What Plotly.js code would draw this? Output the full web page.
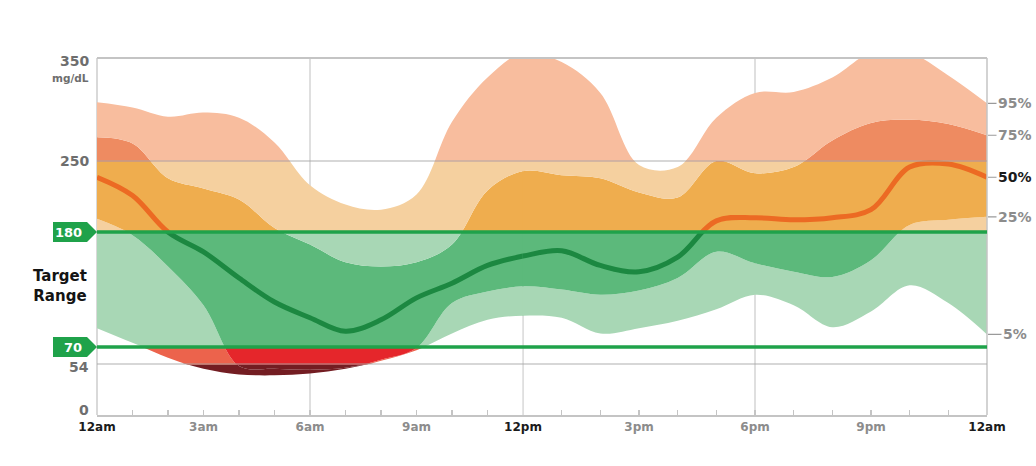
<!DOCTYPE html>
<html><head><meta charset="utf-8">
<script src="https://cdn.plot.ly/plotly-3.0.1.min.js"></script>
<style>html,body{margin:0;padding:0;background:#fff}#chart{width:1036px;height:466px}</style>
</head><body><div id="chart"></div>
<script>
// ---------- data (mg/dL by hour of day) ----------
const hours = [0,1,2,3,4,5,6,7,8,9,10,11,12,13,14,15,16,17,18,19,20,21,22,23,24];
const p5  = [88, 74, 60, 49, 43, 42, 44, 49, 57, 67, 83, 96, 100, 98, 83, 88, 95, 106, 120, 110, 89, 104, 129, 112, 82];
const p25 = [193, 177, 147, 110, 52, 49, 48, 50, 58, 69, 112, 123, 128, 125, 120, 124, 136, 161, 150, 142, 137, 153, 187, 192, 195];
const p50 = [234, 216, 180, 161, 136, 113, 98, 85, 96, 117, 131, 148, 157, 162, 148, 142, 156, 191, 194, 192, 194, 202, 244, 247, 234];
const p75 = [273, 267, 233, 223, 212, 184, 168, 151, 147, 151, 168, 221, 240, 236, 233, 219, 214, 250, 238, 244, 270, 287, 290, 286, 275];
const p95 = [307, 302, 293, 297, 292, 268, 226, 207, 202, 217, 288, 331, 355, 346, 316, 246, 244, 292, 316, 317, 331, 355, 355, 333, 306];
const zoneLimits = [0, 54, 70, 180, 250, 350];
const targetLimits = [70, 180];
const xTickHours = [0, 3, 6, 9, 12, 15, 18, 21, 24];
const xTickLabels = ['12am', '3am', '6am', '9am', '12pm', '3pm', '6pm', '9pm', '12am'];
const xBoldLabels = [0, 12, 24];
const gridHours = [6, 12, 18];
const grayLines = [250, 54];
const leftLabels = [350, 250, 54, 0];
const pctNames = ['5%', '25%', '50%', '75%', '95%'];

// ---------- styling / layout ----------
const FONT = 'DejaVu Sans, Verdana, sans-serif';
const PX = {left: 97, right: 987, top: 58, bottom: 415, W: 1036, H: 466};
const ZONE_ROWS = [415, 364, 347, 232, 161, 58];     // pixel rows of zoneLimits
const HALVES = [{lo: 0, hi: 12, c0: 97, c1: 523}, {lo: 12, hi: 24, c0: 523, c1: 987}];
const OVER = 0.8;
const zoneColors = [
  {light: '#731d22', dark: '#731d22', median: '#731d22'},
  {light: '#ec634c', dark: '#e5262b', median: '#b51e22'},
  {light: '#a8d7b5', dark: '#5cb97b', median: '#1c8841'},
  {light: '#f5d09f', dark: '#efad4e', median: '#ec6a23'},
  {light: '#f8bd9e', dark: '#ee8b61', median: '#ec6a23'}
];
const GREEN = '#1fa24a';

function paperX(px) { return (px - PX.left) / (PX.right - PX.left); }
function paperRow(row) { return (PX.bottom - row) / (PX.bottom - PX.top); }
function paperY(v) {
  const n = zoneLimits.length - 1;
  for (let i = 0; i < n; i++) {
    const lo = zoneLimits[i], hi = zoneLimits[i + 1];
    if (v <= hi || i === n - 1) {
      const row = ZONE_ROWS[i] + (v - lo) / (hi - lo) * (ZONE_ROWS[i + 1] - ZONE_ROWS[i]);
      return paperRow(row);
    }
  }
}

const layout = {
  width: PX.W, height: PX.H,
  margin: {l: PX.left, r: PX.W - PX.right, t: PX.top, b: PX.H - PX.bottom, pad: 0},
  paper_bgcolor: '#ffffff', plot_bgcolor: 'rgba(0,0,0,0)',
  showlegend: false, hovermode: false,
  font: {family: FONT},
  shapes: [], annotations: []
};

// x axes (two halves of the day)
HALVES.forEach((h, j) => {
  const uph = (h.hi - h.lo) / (h.c1 - h.c0);
  const padL = j > 0 ? OVER : 0, padR = j < HALVES.length - 1 ? OVER : 0;
  const tv = [], tt = [];
  hours.forEach(hr => {
    if (hr >= h.lo && (hr < h.hi || j === HALVES.length - 1)) {
      tv.push(hr);
      const k = xTickHours.indexOf(hr);
      let lab = k >= 0 ? xTickLabels[k] : '';
      if (xBoldLabels.indexOf(hr) >= 0) lab = '<span style="color:#1b1b1b">' + lab + '</span>';
      tt.push(lab);
    }
  });
  layout['xaxis' + (j === 0 ? '' : j + 1)] = {
    domain: [paperX(h.c0 - padL), paperX(h.c1 + padR)],
    range: [h.lo - padL * uph, h.hi + padR * uph],
    anchor: 'y', fixedrange: true,
    showgrid: false, zeroline: false,
    showline: true, linecolor: '#c4c4c4', linewidth: 2,
    tickmode: 'array', tickvals: tv, ticktext: tt,
    ticks: 'inside', ticklen: 5, tickwidth: 1.5, tickcolor: '#c4c4c4',
    tickfont: {family: FONT, size: 12, weight: 'bold', color: '#8c8c8c'}
  };
});

// y axes (one per glucose zone)
const NZ = zoneLimits.length - 1;
for (let i = 0; i < NZ; i++) {
  const lo = zoneLimits[i], hi = zoneLimits[i + 1];
  const r0 = ZONE_ROWS[i], r1 = ZONE_ROWS[i + 1];
  const upp = (hi - lo) / (r0 - r1);
  const padLo = i > 0 ? OVER : 0, padHi = i < NZ - 1 ? OVER : 0;
  layout['yaxis' + (i === 0 ? '' : i + 1)] = {
    domain: [paperRow(r0 + padLo), paperRow(r1 - padHi)],
    range: [lo - padLo * upp, hi + padHi * upp],
    anchor: 'x', visible: false, fixedrange: true
  };
}

// traces: every band drawn in every zone, clipped by that zone's plot area
const traces = [];
for (let i = 0; i < NZ; i++) {
  const c = zoneColors[i];
  const ya = 'y' + (i === 0 ? '' : i + 1);
  HALVES.forEach((h, j) => {
    const xa = 'x' + (j === 0 ? '' : j + 1);
    const base = {x: hours, xaxis: xa, yaxis: ya, mode: 'lines', hoverinfo: 'skip'};
    const edge = {shape: 'spline', smoothing: 1, width: 0};
    traces.push(Object.assign({}, base, {y: p5, line: edge}));
    traces.push(Object.assign({}, base, {y: p25, line: edge, fill: 'tonexty', fillcolor: c.light}));
    traces.push(Object.assign({}, base, {y: p75, line: edge, fill: 'tonexty', fillcolor: c.dark}));
    traces.push(Object.assign({}, base, {y: p95, line: edge, fill: 'tonexty', fillcolor: c.light}));
    traces.push(Object.assign({}, base, {y: p50, line: {shape: 'spline', smoothing: 1, width: 5, color: c.median}}));
  });
}

// grid / frame
gridHours.forEach(hr => {
  layout.shapes.push({type: 'line', xref: hr < 12 ? 'x' : 'x2', yref: 'paper', x0: hr, x1: hr, y0: 0, y1: 1,
    line: {color: '#d4d4d4', width: 1.5}, layer: 'below'});
});
layout.shapes.push({type: 'line', xref: 'paper', yref: 'paper', x0: 0, x1: 0, y0: 0, y1: 1, line: {color: '#cccccc', width: 1.5}, layer: 'below'});
layout.shapes.push({type: 'line', xref: 'paper', yref: 'paper', x0: 1, x1: 1, y0: 0, y1: 1, line: {color: '#c4c4c4', width: 1.5}, layer: 'above'});
layout.shapes.push({type: 'line', xref: 'paper', yref: 'paper', x0: 0, x1: 1, y0: 1, y1: 1, line: {color: '#c4c4c4', width: 2}, layer: 'above'});
grayLines.forEach(v => {
  layout.shapes.push({type: 'line', xref: 'paper', yref: 'paper', x0: 0, x1: 1, y0: paperY(v), y1: paperY(v),
    line: {color: 'rgba(165,165,165,0.6)', width: 1.5}, layer: 'above'});
});
// target lines and tags
targetLimits.forEach(v => {
  const y = paperY(v);
  layout.shapes.push({type: 'line', xref: 'paper', yref: 'paper', x0: 0, x1: 1, y0: y, y1: y,
    line: {color: GREEN, width: 3.5}, layer: 'above'});
  const rowC = PX.bottom - y * (PX.bottom - PX.top);
  const xa = paperX(53), xb = paperX(87), xt = paperX(97);
  const ya = paperRow(rowC - 10), yb = paperRow(rowC + 10);
  layout.shapes.push({type: 'path', xref: 'paper', yref: 'paper',
    path: `M${xa},${ya} L${xb},${ya} L${xt},${y} L${xb},${yb} L${xa},${yb} Z`,
    fillcolor: GREEN, line: {width: 0}, layer: 'above'});
  layout.annotations.push({xref: 'paper', yref: 'paper', x: paperX(84), y: y, xanchor: 'right', yanchor: 'middle',
    text: String(v), showarrow: false, font: {family: FONT, size: 13, weight: 'bold', color: '#ffffff'}});
});

// left axis labels
const leftShift = {350: -3, 250: 0, 54: -3, 0: 5};
leftLabels.forEach(v => {
  layout.annotations.push({xref: 'paper', yref: 'paper', x: paperX(91), y: paperY(v), xanchor: 'right', yanchor: 'middle',
    yshift: leftShift[v], text: String(v), showarrow: false, font: {family: FONT, size: 14, weight: 'bold', color: '#6e6e6e'}});
});
layout.annotations.push({xref: 'paper', yref: 'paper', x: paperX(91), y: paperRow(78), xanchor: 'right', yanchor: 'middle',
  text: 'mg/dL', showarrow: false, font: {family: FONT, size: 10.5, weight: 'bold', color: '#6e6e6e'}});
layout.annotations.push({xref: 'paper', yref: 'paper', x: paperX(89), y: paperRow(286), xanchor: 'right', yanchor: 'middle',
  text: 'Target<br>Range', align: 'center', showarrow: false, font: {family: FONT, size: 15, weight: 'bold', color: '#141414'}});

// right percentile labels at the end-of-day values
const pctSeries = [p5, p25, p50, p75, p95];
pctSeries.forEach((s, k) => {
  const isMed = pctNames[k] === '50%';
  layout.annotations.push({xref: 'paper', yref: 'paper', x: 1, y: paperY(s[s.length - 1]),
    text: pctNames[k], showarrow: true, arrowhead: 0, arrowwidth: 1.2, arrowcolor: '#9a9a9a',
    ax: 28, ay: 0, standoff: 1, borderpad: 1,
    font: {family: FONT, size: 14, weight: 'bold', color: isMed ? '#1a1a1a' : '#8c8c8c'}});
});

Plotly.newPlot('chart', traces, layout, {displayModeBar: false, staticPlot: true});
</script>
</body></html>
